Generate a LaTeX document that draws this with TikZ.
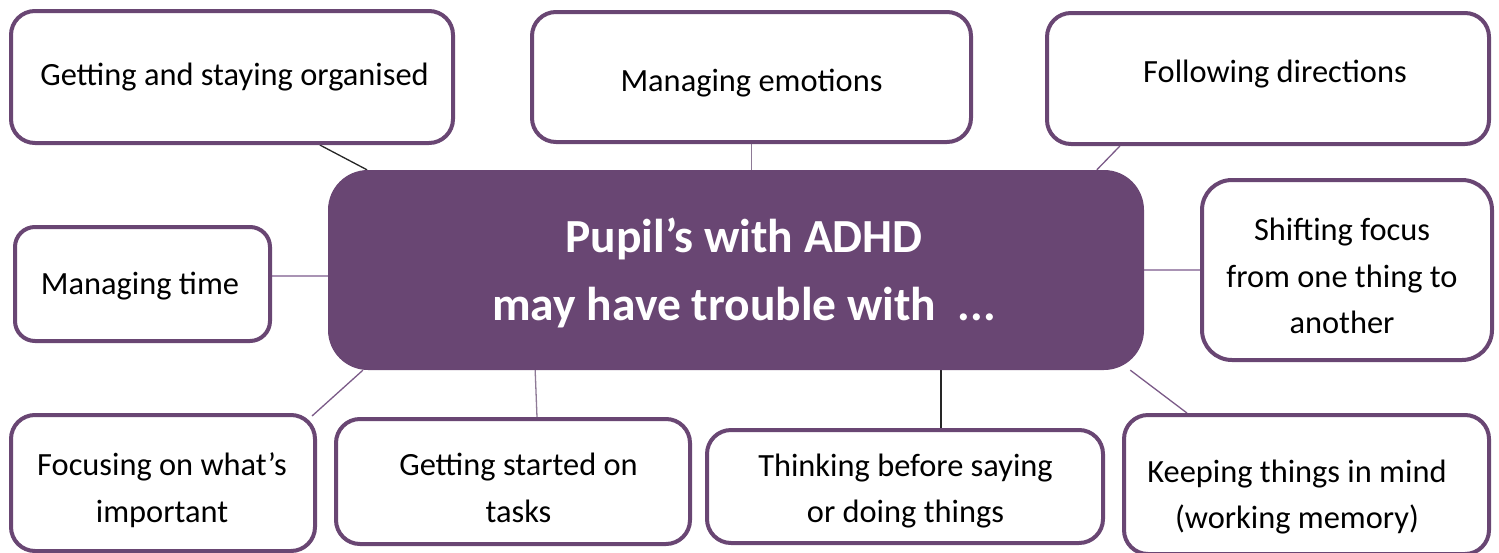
\documentclass[tikz,border=0pt]{standalone}
\usepackage{fontspec}
\setmainfont{Carlito}
\usetikzlibrary{calc,backgrounds}
\definecolor{purp}{HTML}{694673}
\definecolor{linepurp}{HTML}{7B5A88}
\definecolor{lightpurp}{HTML}{A993B4}
\definecolor{midpurp}{HTML}{8E7A96}
\tikzset{
  box/.style={draw=purp, line width=4pt, fill=white, rounded corners=24pt, inner sep=0pt},
  hub/.style={fill=purp, rounded corners=40pt, inner sep=0pt},
  txt/.style={align=center, font=\fontsize{32.4}{46.5}\selectfont, inner sep=0pt},
  hubtxt/.style={align=center, text=white, font=\fontsize{47.5}{68}\selectfont\bfseries, inner sep=0pt},
  conn/.style={line width=1.3pt}
}
\begin{document}
\begin{tikzpicture}[x=1pt,y=-1pt]
\useasboundingbox (0,0) rectangle (1499,552);
% hub
\node[hub, minimum width=816pt, minimum height=200pt] (c) at (736,270) {};
\node[hubtxt] (ct) at (744,273) {Pupil’s with ADHD\\may have trouble with\ \ ...};
% boxes
\node[box, minimum width=442pt, minimum height=132pt] (b1) at (232,77) {};
\node[box, minimum width=439pt, minimum height=130pt] (b2) at (751.5,77) {};
\node[box, minimum width=442pt, minimum height=131pt] (b3) at (1268,78.5) {};
\node[box, minimum width=255pt, minimum height=114pt, rounded corners=20pt] (b4) at (142.5,284) {};
\node[box, minimum width=290pt, minimum height=180pt, rounded corners=30pt] (b5) at (1347,270) {};
\node[box, minimum width=304pt, minimum height=136pt] (b6) at (163,483) {};
\node[box, minimum width=354pt, minimum height=125pt] (b7) at (513,481.5) {};
\node[box, minimum width=396pt, minimum height=113pt] (b8) at (905,486.5) {};
\node[box, minimum width=365pt, minimum height=139pt] (b9) at (1306.5,484.5) {};
% texts
\node[txt] (t1) at (234.5,77) {Getting and staying organised};
\node[txt] (t2) at (751.5,83) {Managing emotions};
\node[txt] (t3) at (1275,74) {Following directions};
\node[txt] (t4) at (140,286) {Managing time};
\node[txt] (t5) at (1342,276) {Shifting focus\\from one thing to\\another};
\node[txt] (t6) at (162,490) {Focusing on what’s\\important};
\node[txt] (t7) at (518.5,488) {Getting started on\\tasks};
\node[txt] (t8) at (905.5,491) {Thinking before saying\\or doing things};
\node[txt] (t9) at (1297,497) {Keeping things in mind\\(working memory)};
% connectors
\begin{pgfonlayer}{background}
\draw[conn, black!85] ($(b1.south west)!0.697!(b1.south east)$) -- ($(c.north west)!0.048!(c.north east)$);
\draw[conn, midpurp] (b2.south) -- (b2.south |- c.north);
\draw[conn, linepurp] ($(b3.south west)!0.168!(b3.south east)$) -- ($(c.north west)!0.942!(c.north east)$);
\draw[conn, lightpurp] ([yshift=8pt]b4.east) -- ([yshift=8pt]b4.east -| c.west);
\draw[conn, lightpurp] (b5.west) -- (b5.west -| c.east);
\draw[conn, linepurp] ([xshift=-5pt,yshift=-3pt]b6.north east) -- ($(c.south west)!0.043!(c.south east)$);
\draw[conn, midpurp] ($(b7.north west)!0.567!(b7.north east)$) -- ($(c.south west)!0.254!(c.south east)$);
\draw[conn, black!85] (c.south -| 941,0) -- (b8.north -| 941,0);
\draw[conn, linepurp] ($(b9.north west)!0.176!(b9.north east)$) -- ($(c.south west)!0.983!(c.south east)$);
\end{pgfonlayer}
\end{tikzpicture}
\end{document}
